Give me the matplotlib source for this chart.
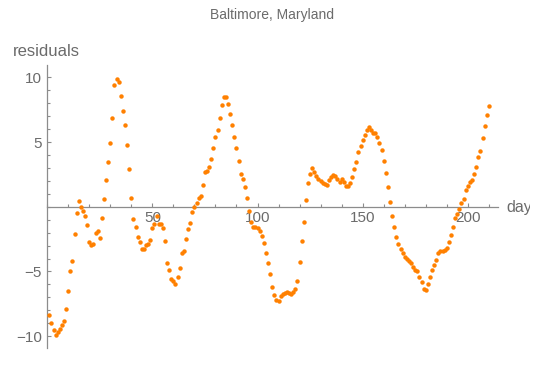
import numpy as np
import matplotlib
matplotlib.use('Agg')
import matplotlib.pyplot as plt
from matplotlib.ticker import MultipleLocator, FixedLocator
from matplotlib.transforms import Bbox

plt.rcParams['font.family'] = ['Liberation Sans', 'DejaVu Sans']

title = 'Baltimore, Maryland'
x_label = 'days'
y_label = 'residuals'

# residuals, one per day (day 1 .. 210)
residuals = [
    -8.35, -8.96, -9.53, -9.89, -9.66, -9.48, -9.15, -8.80, -7.87, -6.50,
    -4.98, -4.18, -2.10, -0.50, 0.46, -0.03, -0.36, -0.72, -1.44, -2.73,
    -2.94, -2.84, -2.00, -1.90, -2.45, -0.85, 0.62, 2.09, 3.43, 4.91,
    6.88, 9.44, 9.89, 9.68, 8.56, 7.39, 6.31, 4.79, 2.89, 0.71,
    -0.98, -1.56, -2.33, -2.69, -3.30, -3.30, -2.94, -2.85, -2.59, -1.68,
    -1.34, -0.71, -1.34, -1.30, -1.61, -2.63, -4.33, -4.85, -5.56, -5.72,
    -5.95, -5.44, -4.74, -3.60, -3.43, -2.50, -1.73, -1.22, -0.42, -0.03,
    0.31, 0.66, 0.82, 1.70, 2.68, 2.77, 3.11, 3.69, 4.51, 5.39,
    5.95, 6.87, 7.85, 8.50, 8.48, 7.94, 7.19, 6.33, 5.42, 4.52,
    3.57, 2.52, 2.16, 1.50, 0.70, -0.33, -1.21, -1.59, -1.55, -1.68,
    -1.86, -2.25, -2.82, -3.60, -4.33, -5.20, -6.18, -6.85, -7.20, -7.25,
    -6.86, -6.73, -6.63, -6.62, -6.66, -6.71, -6.56, -6.34, -5.74, -4.29,
    -2.65, -1.16, 0.55, 1.80, 2.50, 2.96, 2.70, 2.41, 2.18, 1.97,
    1.87, 1.79, 1.71, 2.03, 2.33, 2.44, 2.37, 2.18, 1.91, 2.15,
    1.91, 1.62, 1.62, 1.86, 2.32, 2.89, 3.43, 4.25, 4.72, 5.13,
    5.57, 5.95, 6.18, 5.95, 5.67, 5.67, 5.36, 4.95, 4.38, 3.56,
    2.63, 1.55, 0.33, -0.70, -1.57, -2.30, -2.88, -3.30, -3.60, -3.88,
    -4.02, -4.20, -4.38, -4.68, -4.85, -5.00, -5.41, -5.83, -6.34, -6.47,
    -5.96, -5.44, -4.92, -4.53, -4.12, -3.55, -3.45, -3.40, -3.37, -3.19,
    -2.72, -2.21, -1.57, -0.90, -0.54, -0.15, 0.28, 0.57, 1.26, 1.57,
    1.88, 2.06, 2.55, 3.04, 3.81, 4.33, 5.28, 6.23, 7.08, 7.78,
]
days = np.arange(1, len(residuals) + 1)

x_major = [50, 100, 150, 200]
y_major = [-10, -5, 5, 10]

dot_color = '#ff8000'
axis_color = '#8c8c8c'
text_color = '#6b6b6b'

fig = plt.figure(figsize=(5.45, 3.74), dpi=100)
ax = fig.add_axes([47.2 / 545, 1 - 348.3 / 374, (498.3 - 47.2) / 545, (348.3 - 64.7) / 374])

ax.plot(days, residuals, 'o', ms=3.2, mec='none', color=dot_color, zorder=3, clip_on=False)

ax.set_xlim(0, 214.5)
ax.set_ylim(-10.94, 10.98)

for s in ['top', 'right']:
    ax.spines[s].set_visible(False)
ax.spines['bottom'].set_position(('data', 0))
ax.spines['left'].set_position(('data', 0))
for s in ['bottom', 'left']:
    ax.spines[s].set_color(axis_color)
    ax.spines[s].set_linewidth(0.9)

ax.xaxis.set_major_locator(FixedLocator(x_major))
ax.xaxis.set_minor_locator(MultipleLocator(10))
ax.yaxis.set_major_locator(FixedLocator(y_major))
ax.yaxis.set_minor_locator(MultipleLocator(1))

ax.tick_params(which='both', direction='in', color=axis_color, width=0.8,
               labelcolor=text_color, labelsize=11)
ax.tick_params(which='major', length=3.2)
ax.tick_params(which='minor', length=1.9)
ax.tick_params(axis='x', pad=3)
ax.tick_params(axis='y', pad=4)

fig.text(0.5, 1 - 19 / 374, title, ha='center', va='baseline', fontsize=10, color=text_color)
fig.text(13 / 545, 1 - 56.5 / 374, y_label, ha='left', va='baseline', fontsize=12, color=text_color)
t = fig.text(506.5 / 545, 1 - 211.5 / 374, x_label, ha='left', va='baseline', fontsize=11.5, color=text_color)
t.set_clip_box(Bbox([[0, 0], [530, 374]]))
t.set_clip_on(True)

fig.savefig('out.png', dpi=100, facecolor='white')
